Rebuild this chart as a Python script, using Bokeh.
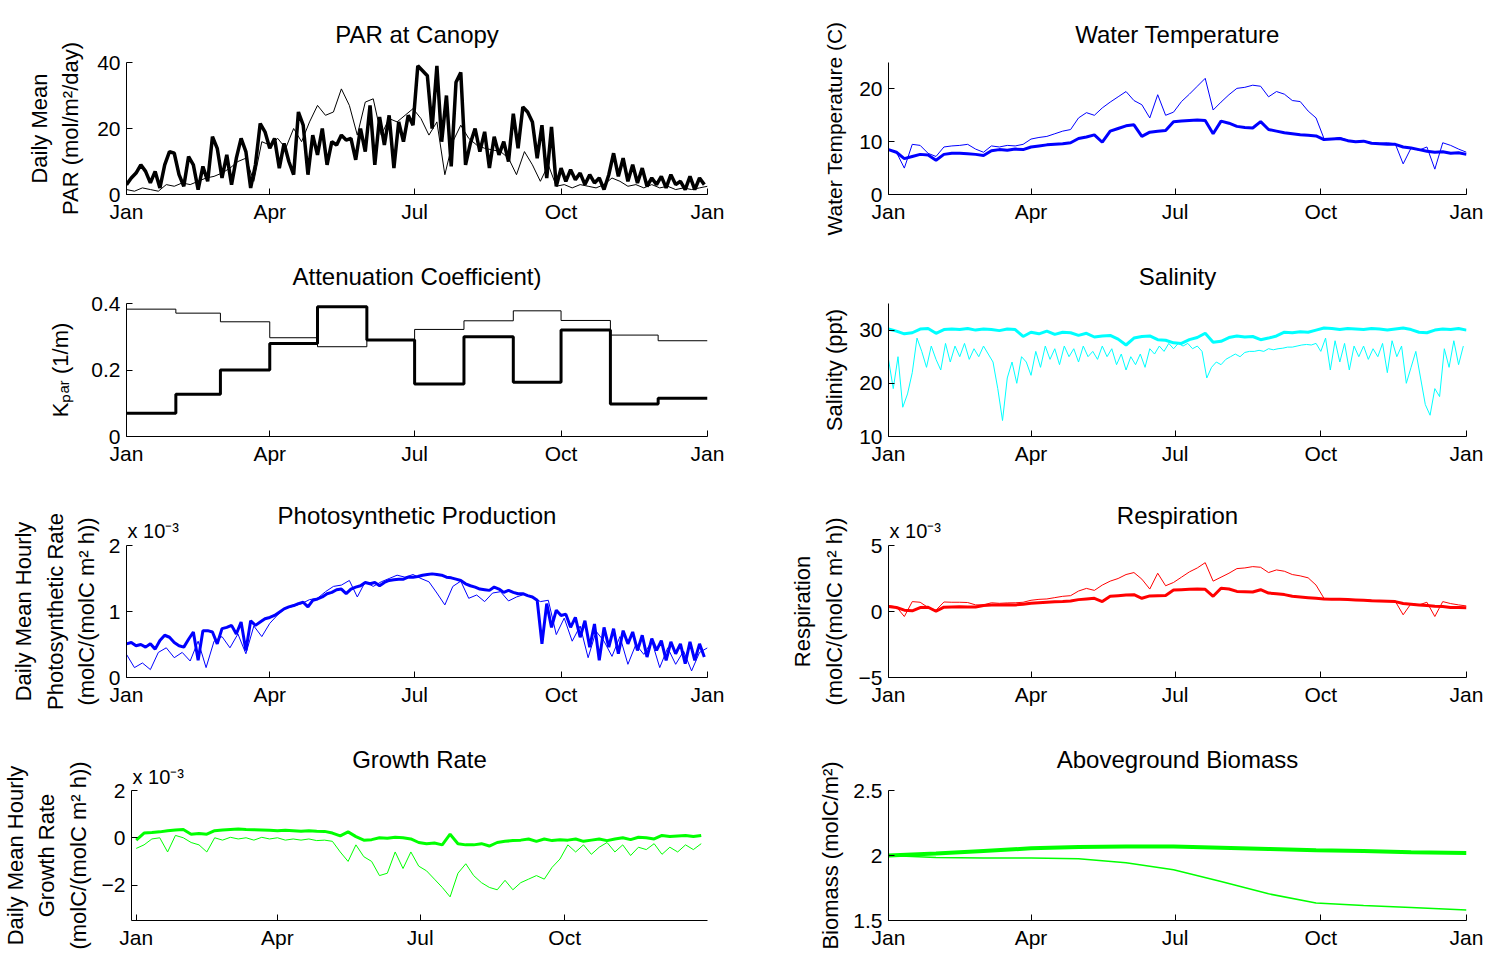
import numpy as np
from bokeh.plotting import figure
from bokeh.layouts import column, row
from bokeh.models import Range1d, FixedTicker, Title
from bokeh.embed import file_html
from bokeh.resources import INLINE

FONT = "Liberation Sans"

# ---- time axis (day of year) ----
month_ticks = [0, 90, 181, 273, 365]
month_names = ["Jan", "Apr", "Jul", "Oct", "Jan"]
month_starts = [0, 31, 59, 90, 120, 151, 181, 212, 243, 273, 304, 334, 365]

# ---- PAR at canopy (mol/m2/day) ----
par_thick = [3, 5, 6.5, 9, 7, 3.5, 7, 2, 9, 13,
             12.5, 6, 2.5, 11.5, 9, 1.5, 8.5, 4, 17.5, 14,
             5, 12, 3, 11, 17, 13, 2, 9, 21.5, 19,
             14, 17, 8, 15.5, 10, 6, 25, 21, 6, 18,
             12, 20, 9, 16, 15, 18, 16.5, 17, 10.5, 20,
             13, 27, 9, 23.5, 15, 24, 8, 22, 16, 24,
             21, 39, 37.5, 36, 20, 39, 16, 30, 8.5, 34,
             37, 9, 15.5, 20, 13, 19, 8, 17.5, 12, 16,
             10, 24.5, 14, 26.5, 25, 22, 11, 21, 5, 20.5,
             2.5, 8, 4, 7.5, 4.5, 6.5, 3, 6, 3.5, 5,
             1.5, 6, 12.5, 5.5, 11, 4, 9, 3.5, 8, 2.5,
             5, 3, 5.5, 2, 6, 3, 4, 1.5, 5.5, 1.5,
             5, 3]
par_thin = [1.5, 1, 2, 1.5, 1, 3, 2.5, 3.5, 3, 4,
            5, 5.5, 6.5, 8, 10, 11, 4, 16, 15, 17,
            14, 20, 16, 22, 27, 24, 25, 32, 27, 18,
            28, 29, 18, 23, 22, 24, 26, 23, 18, 22,
            6, 16, 21, 17, 15, 14, 13.5, 13, 11, 6,
            13, 9, 4, 9, 2.5, 3, 2, 3, 2.5, 2,
            3, 5, 4, 2.5, 3, 2, 3, 2, 2.5, 1.5,
            2, 1.5, 2, 2.5]

# ---- water temperature (C) ----
temp_thick = [8.5, 8.0, 6.8, 7.2, 7.6, 7.5, 6.5, 7.6, 7.8, 7.8,
              7.7, 7.6, 7.4, 8.3, 8.5, 8.4, 8.6, 8.5, 9.0, 9.2,
              9.4, 9.5, 9.6, 9.8, 10.6, 10.9, 11.3, 9.9, 12.0, 12.5,
              13.0, 13.2, 11.0, 11.8, 12.0, 12.1, 13.8, 13.9, 14.0, 14.1,
              14.0, 11.5, 13.9, 13.5, 12.9, 12.7, 12.6, 13.8, 12.3, 12.0,
              11.7, 11.5, 11.3, 11.2, 11.1, 10.4, 10.5, 10.6, 10.2, 10.0,
              10.1, 9.7, 9.6, 9.5, 9.5, 9.0, 8.8, 8.5, 8.2, 8.0,
              8.1, 7.8, 7.9, 7.6]
temp_thin = [8.5, 8.0, 5.0, 9.5, 9.3, 7.8, 7.2, 9.0, 9.2, 9.3,
             9.5, 8.6, 8.0, 9.2, 9.0, 9.3, 9.2, 9.5, 10.5, 10.8,
             11.0, 11.5, 12.0, 12.3, 14.5, 15.5, 15.0, 16.4, 17.5, 18.5,
             19.5, 17.8, 17.0, 14.5, 18.9, 15.0, 15.6, 17.6, 19.0, 20.5,
             22.0, 16.0, 17.5, 18.9, 20.1, 20.3, 20.7, 20.5, 18.5, 19.5,
             19.0, 17.8, 17.6, 15.8, 14.5, 10.6, 10.5, 10.8, 10.3, 10.0,
             10.2, 9.8, 9.7, 9.8, 9.6, 5.8, 8.8, 8.4, 9.0, 4.8,
             9.8, 9.3, 8.6, 8.0]

# ---- light attenuation coefficient, monthly (1/m) ----
kpar_thick = [0.07, 0.127, 0.20, 0.28, 0.39, 0.29, 0.158, 0.30, 0.163, 0.32, 0.098, 0.115]
kpar_thin = [0.383, 0.371, 0.345, 0.297, 0.27, 0.29, 0.322, 0.348, 0.378, 0.349, 0.305, 0.288]

# ---- salinity (ppt) ----
sal_thick = [30.2, 29.8, 29.3, 29.5, 30.2, 30.3, 29.4, 30.1, 30.2, 30.1,
             30.3, 30.0, 30.2, 30.1, 29.9, 30.2, 30.1, 28.8, 29.6, 29.3,
             29.8, 29.2, 29.6, 29.5, 29.0, 29.4, 28.7, 28.9, 29.0, 28.3,
             27.2, 28.5, 28.8, 28.9, 28.2, 28.1, 27.6, 27.5, 28.2, 28.6,
             29.4, 27.7, 27.9, 28.6, 28.9, 28.7, 28.8, 28.2, 28.5, 28.9,
             29.6, 29.5, 29.7, 29.6, 30.0, 30.4, 30.3, 30.1, 30.3, 30.2,
             30.1, 30.3, 30.2, 30.0, 30.2, 30.4, 30.1, 29.6, 29.5, 30.0,
             30.2, 30.1, 30.3, 30.0]
sal_thin = [24.5, 19, 25, 15.5, 18, 22, 28.5, 26, 23, 27,
            24.5, 22.5, 27.5, 24, 27, 25, 27.5, 24.5, 26.5, 25,
            27, 25.5, 24, 19, 13, 21, 24, 20, 25, 24,
            21.5, 26, 23, 27, 24.5, 26.5, 23.5, 27, 25, 26.5,
            24, 27, 25, 26, 24.5, 27, 25, 26.5, 23.5, 25.5,
            22.5, 25, 23.5, 25.5, 23, 26.5, 25.5, 27, 26, 27.5,
            26.5, 27.5, 27, 27.5, 26.5, 27, 26, 21, 23, 24,
            23.5, 24.5, 25, 25.5, 25, 25.8, 26, 26, 26.2, 26,
            26.5, 26.3, 26.5, 26.6, 26.8, 26.8, 27, 27.2, 27.3, 27.2,
            27.5, 26, 28.5, 22.5, 28, 24, 27.5, 22.5, 27, 25,
            27, 24.5, 26.5, 25, 27.5, 22, 28, 25, 27, 20,
            23, 26, 21, 16, 14, 19, 17.5, 26.5, 23, 28,
            23.5, 27]

# ---- photosynthetic production (x 1e-3 molC/(molC m2 h)) ----
photo_thick = [0.51, 0.53, 0.48, 0.50, 0.46, 0.51, 0.43, 0.56, 0.64, 0.61,
               0.53, 0.48, 0.46, 0.58, 0.69, 0.26, 0.71, 0.71, 0.69, 0.51,
               0.74, 0.76, 0.79, 0.66, 0.84, 0.41, 0.86, 0.79, 0.84, 0.89,
               0.91, 0.94, 0.99, 1.04, 1.07, 1.09, 1.12, 1.14, 1.07, 1.17,
               1.19, 1.22, 1.27, 1.29, 1.33, 1.34, 1.27, 1.34, 1.37, 1.39,
               1.44, 1.42, 1.44, 1.39, 1.44, 1.47, 1.48, 1.49, 1.49, 1.52,
               1.52, 1.53, 1.55, 1.56, 1.57, 1.56, 1.55, 1.52, 1.51, 1.49,
               1.47, 1.42, 1.39, 1.37, 1.34, 1.33, 1.32, 1.37, 1.34, 1.29,
               1.32, 1.29, 1.27, 1.27, 1.24, 1.22, 1.17, 0.51, 1.12, 0.76,
               1.02, 0.94, 0.96, 0.76, 0.91, 0.61, 0.86, 0.46, 0.81, 0.26,
               0.76, 0.46, 0.74, 0.36, 0.71, 0.51, 0.69, 0.41, 0.64, 0.31,
               0.59, 0.41, 0.56, 0.26, 0.54, 0.36, 0.51, 0.21, 0.54, 0.26,
               0.51, 0.31]
photo_thin = [0.35, 0.15, 0.22, 0.12, 0.38, 0.45, 0.30, 0.38, 0.25, 0.55,
              0.15, 0.55, 0.62, 0.45, 0.66, 0.36, 0.78, 0.62, 0.82, 0.95,
              1.05, 1.08, 1.12, 1.18, 1.20, 1.30, 1.38, 1.40, 1.47, 1.22,
              1.45, 1.38, 1.45, 1.50, 1.55, 1.52, 1.56, 1.50, 1.45, 1.28,
              1.10, 1.38, 1.46, 1.20, 1.25, 1.15, 1.28, 1.30, 1.16, 1.22,
              1.26, 1.22, 1.15, 1.17, 0.65, 0.90, 0.55, 0.78, 0.30, 0.70,
              0.55, 0.32, 0.62, 0.20, 0.50, 0.35, 0.55, 0.15, 0.45, 0.20,
              0.40, 0.10, 0.38, 0.45]

# ---- respiration (x 1e-3) ----
resp_thick = [0.38, 0.30, 0.10, 0.05, 0.30, 0.32, 0.02, 0.33, 0.35, 0.36,
              0.35, 0.34, 0.45, 0.50, 0.50, 0.52, 0.50, 0.55, 0.62, 0.66,
              0.70, 0.74, 0.76, 0.80, 0.90, 0.95, 1.00, 0.75, 1.15, 1.20,
              1.25, 1.27, 1.00, 1.18, 1.20, 1.22, 1.62, 1.65, 1.68, 1.70,
              1.68, 1.15, 1.76, 1.70, 1.52, 1.50, 1.48, 1.65, 1.40, 1.35,
              1.28, 1.15, 1.10, 1.05, 1.00, 0.95, 0.93, 0.92, 0.90, 0.88,
              0.85, 0.82, 0.80, 0.78, 0.75, 0.60, 0.55, 0.50, 0.45, 0.40,
              0.38, 0.30, 0.30, 0.28]
resp_thin = [0.45, 0.35, -0.38, 0.75, 0.70, 0.30, 0.10, 0.72, 0.70, 0.70,
             0.68, 0.50, 0.50, 0.66, 0.62, 0.65, 0.66, 0.70, 0.85, 0.92,
             0.95, 1.05, 1.15, 1.20, 1.55, 1.75, 1.60, 2.00, 2.30, 2.50,
             2.80, 2.95, 2.45, 1.70, 2.90, 1.95, 2.20, 2.60, 3.00, 3.30,
             3.70, 2.30, 2.60, 2.90, 3.25, 3.30, 3.40, 3.35, 2.95, 3.15,
             3.05, 2.80, 2.70, 2.55, 2.00, 1.00, 0.98, 0.95, 0.92, 0.90,
             0.88, 0.85, 0.82, 0.80, 0.78, -0.25, 0.60, 0.50, 0.70, -0.38,
             0.75, 0.60, 0.50, 0.42]

# ---- growth rate (x 1e-3) ----
growth_thick = [-0.10, 0.20, 0.22, 0.25, 0.30, 0.33, 0.35, 0.15, 0.18, 0.15,
                0.30, 0.33, 0.35, 0.37, 0.35, 0.34, 0.33, 0.32, 0.30, 0.32,
                0.30, 0.28, 0.30, 0.28, 0.27, 0.20, 0.08, 0.25, 0.05, -0.10,
                -0.08, 0.00, -0.02, 0.02, 0.00, -0.05, -0.20, -0.25, -0.22, -0.30,
                0.15, -0.25, -0.30, -0.30, -0.25, -0.35, -0.20, -0.15, -0.12, -0.10,
                -0.05, -0.15, -0.05, -0.12, -0.08, -0.10, -0.05, -0.15, -0.10, -0.05,
                -0.12, -0.05, 0.00, -0.08, 0.02, 0.00, -0.05, 0.10, 0.05, 0.08,
                0.10, 0.05, 0.10]
growth_thin = [-0.45, -0.30, -0.05, 0.00, -0.60, 0.10, 0.00, -0.20, -0.30, -0.60,
               0.00, -0.10, 0.02, -0.05, 0.00, -0.10, 0.02, -0.05, 0.00, -0.10,
               -0.05, -0.10, -0.05, -0.12, -0.10, -0.15, -0.60, -1.00, -0.30, -0.80,
               -1.00, -1.60, -1.50, -0.60, -1.30, -0.60, -1.20, -1.40, -1.75, -2.10,
               -2.50, -1.50, -1.10, -1.60, -1.90, -2.10, -2.20, -1.80, -2.20, -1.90,
               -1.75, -1.60, -1.75, -1.25, -0.90, -0.30, -0.60, -0.30, -0.70, -0.40,
               -0.20, -0.60, -0.30, -0.75, -0.40, -0.50, -0.25, -0.70, -0.40, -0.60,
               -0.30, -0.50, -0.25]

# ---- aboveground biomass (molC/m2) ----
bio_days = [0, 30, 60, 90, 120, 150, 180, 210, 240, 270, 300, 330, 365]
bio_thick = [2.0, 2.015, 2.035, 2.055, 2.065, 2.07, 2.07, 2.06, 2.05, 2.04, 2.035, 2.025, 2.02]
bio_thin = [2.0, 1.985, 1.98, 1.98, 1.975, 1.945, 1.89, 1.80, 1.705, 1.635, 1.615, 1.60, 1.58]


def days(values, step):
    return np.arange(len(values)) * step


# row geometry: (top border, frame height, bottom border)
ROWS = [(62, 132, 52), (57, 133, 40), (69, 132, 40), (73, 130, 36)]
# column geometry: (left border, frame width, right border)
COLS = [(126, 581, 50), (131, 578, 23)]


def add_titles(p, text, title_standoff, exp_standoff=None):
    # optional "x 10^-3" scale note sits just above the frame, left aligned
    if exp_standoff is not None:
        p.add_layout(Title(text="x 10\u207b\u00b3", align="left", offset=1,
                           standoff=exp_standoff, text_font=FONT,
                           text_font_size="20px", text_font_style="normal",
                           text_color="black"), "above")
    t = Title(text=text, align="center", text_font=FONT, text_font_size="24px",
              text_font_style="normal", text_color="black")
    try:
        t.standoff = title_standoff
    except ValueError:
        t.standoff = 0
    p.add_layout(t, "above")


def panel(ylabel, yr, yticks, col, r, label_standoff,
          xr=(0, 365), xticks=month_ticks, ylabels=None, label_size="22px"):
    top, fh, bot = ROWS[r]
    left, fw, right = COLS[col]
    p = figure(width=left + fw + right, height=top + fh + bot,
               min_border_left=left, min_border_right=right,
               min_border_top=top, min_border_bottom=bot,
               x_range=Range1d(*xr), y_range=Range1d(*yr),
               output_backend="svg", toolbar_location=None, tools="")
    p.title = None
    p.outline_line_color = None
    p.xgrid.visible = False
    p.ygrid.visible = False

    for ax in (p.xaxis[0], p.yaxis[0]):
        ax.major_tick_in = 6
        ax.major_tick_out = 0
        ax.minor_tick_line_color = None
        ax.axis_line_color = "black"
        ax.major_tick_line_color = "black"
        ax.major_label_text_font = FONT
        ax.major_label_text_font_size = "21px"
        ax.major_label_text_color = "black"

    xa = p.xaxis[0]
    xa.ticker = FixedTicker(ticks=xticks)
    xa.major_label_overrides = {t: n for t, n in zip(month_ticks, month_names) if t in xticks}
    xa.major_label_standoff = 5

    ya = p.yaxis[0]
    ya.ticker = FixedTicker(ticks=yticks)
    if ylabels:
        ya.major_label_overrides = dict(zip(yticks, ylabels))
    ya.major_label_standoff = 6
    ya.axis_label = ylabel
    ya.axis_label_text_font = FONT
    ya.axis_label_text_font_size = label_size
    ya.axis_label_text_font_style = "normal"
    ya.axis_label_text_color = "black"
    ya.axis_label_text_line_height = 1.25
    ya.axis_label_standoff = label_standoff
    return p


BLUE, CYAN, RED, GREEN = "#0000ff", "#00ffff", "#ff0000", "#00ff00"

# PAR at canopy
p1 = panel("Daily Mean\nPAR (mol/m\u00b2/day)", (0, 40), [0, 20, 40], 0, 0, 11)
add_titles(p1, "PAR at Canopy", 30)
p1.line(days(par_thin, 5), par_thin, line_color="black", line_width=1)
p1.line(days(par_thick, 3), par_thick, line_color="black", line_width=3.5)

# Water temperature
p2 = panel("Water Temperature (C)", (0, 25), [0, 10, 20], 1, 0, 10, label_size="21px")
add_titles(p2, "Water Temperature", 30)
p2.line(days(temp_thin, 5), temp_thin, line_color=BLUE, line_width=1)
p2.line(days(temp_thick, 5), temp_thick, line_color=BLUE, line_width=3)

# Attenuation coefficient (monthly steps)
p3 = panel("K\u209a\u2090\u1d63 (1/m)", (0, 0.4), [0, 0.2, 0.4], 0, 1, 15,
           ylabels=["0", "0.2", "0.4"])
add_titles(p3, "Attenuation Coefficient)", 27)
p3.step(month_starts, kpar_thin + kpar_thin[-1:], mode="after", line_color="black", line_width=1)
p3.step(month_starts, kpar_thick + kpar_thick[-1:], mode="after", line_color="black", line_width=3)

# Salinity
p4 = panel("Salinity (ppt)", (10, 35), [10, 20, 30], 1, 1, 9)
add_titles(p4, "Salinity", 27)
p4.line(days(sal_thin, 3), sal_thin, line_color=CYAN, line_width=1)
p4.line(days(sal_thick, 5), sal_thick, line_color=CYAN, line_width=3)

# Photosynthetic production
p5 = panel("Daily Mean Hourly\nPhotosynthetic Rate\n(molC/(molC m\u00b2 h))",
           (0, 2), [0, 1, 2], 0, 2, 7)
add_titles(p5, "Photosynthetic Production", -31, exp_standoff=8)
p5.line(days(photo_thin, 5), photo_thin, line_color=BLUE, line_width=1)
p5.line(days(photo_thick, 3), photo_thick, line_color=BLUE, line_width=3)

# Respiration
p6 = panel("Respiration\n(molC/(molC m\u00b2 h))", (-5, 5), [-5, 0, 5], 1, 2, 9)
add_titles(p6, "Respiration", -31, exp_standoff=8)
p6.line(days(resp_thin, 5), resp_thin, line_color=RED, line_width=1)
p6.line(days(resp_thick, 5), resp_thick, line_color=RED, line_width=3)

# Growth rate
p7 = panel("Daily Mean Hourly\nGrowth Rate\n(molC/(molC m\u00b2 h))",
           (-3.5, 2), [-2, 0, 2], 0, 3, 8, xr=(-3, 364), xticks=[0, 90, 181, 273])
add_titles(p7, "Growth Rate", -23, exp_standoff=5)
p7.line(days(growth_thin, 5), growth_thin, line_color=GREEN, line_width=1)
p7.line(days(growth_thick, 5), growth_thick, line_color=GREEN, line_width=3)

# Aboveground biomass
p8 = panel("Biomass (molC/m\u00b2)", (1.5, 2.5), [1.5, 2, 2.5], 1, 3, 7,
           ylabels=["1.5", "2", "2.5"])
add_titles(p8, "Aboveground Biomass", 36)
p8.line(bio_days, bio_thin, line_color=GREEN, line_width=1.5)
p8.line(bio_days, bio_thick, line_color=GREEN, line_width=4)

layout = column(row(p1, p2), row(p3, p4), row(p5, p6), row(p7, p8))

with open("out.html", "w") as f:
    f.write(file_html(layout, INLINE, "Seagrass model forcing and response"))
